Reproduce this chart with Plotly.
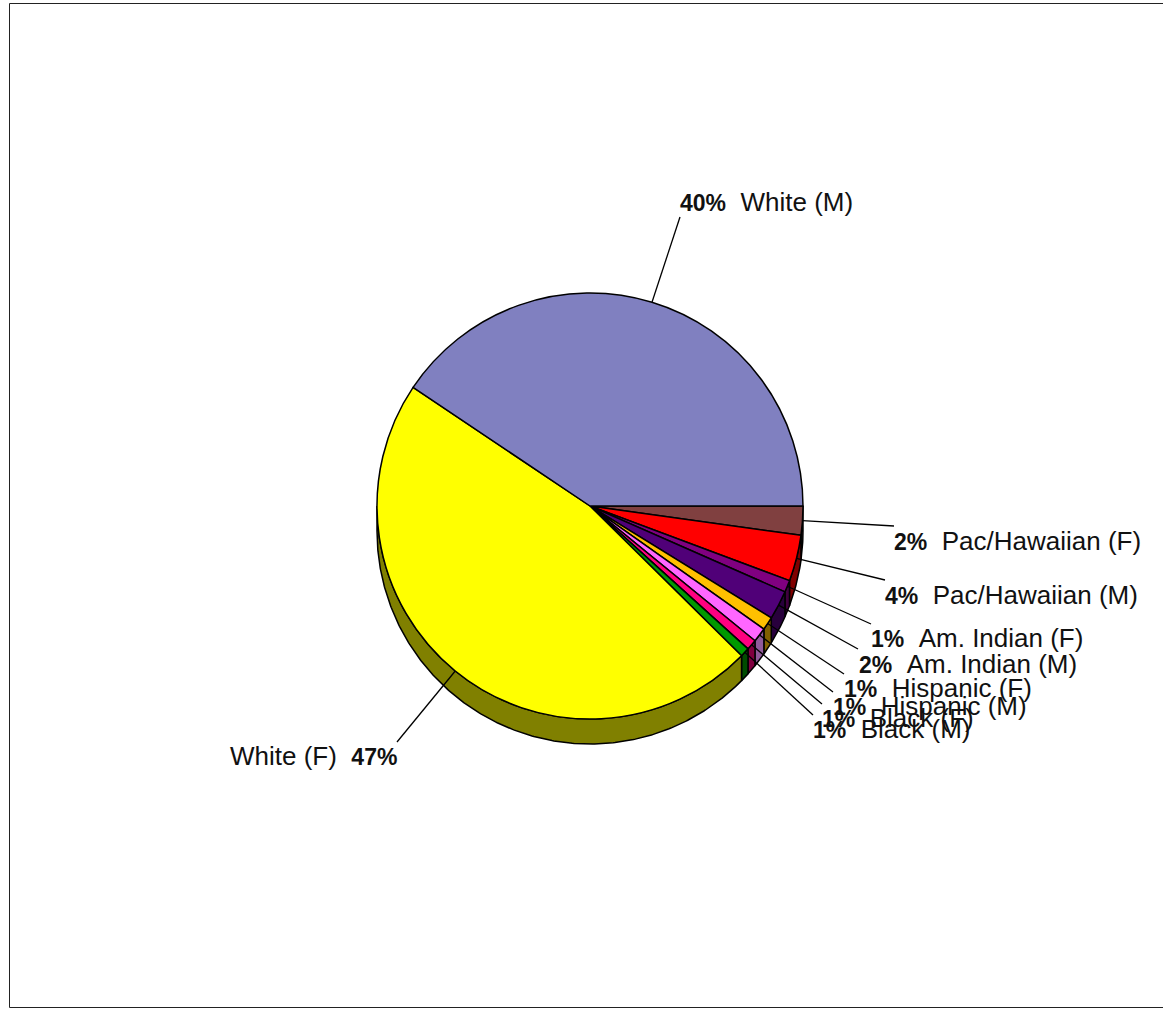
import math
import plotly.graph_objects as go

W, H = 1163, 1009

# ---- data ----
categories = ["Pac/Hawaiian (F)", "Pac/Hawaiian (M)", "Am. Indian (F)", "Am. Indian (M)",
              "Hispanic (F)", "Hispanic (M)", "Black (F)", "Black (M)", "White (F)", "White (M)"]
values = [2.2, 3.5, 0.9, 2.2, 1.0, 1.1, 0.8, 0.7, 47.0, 40.6]
percent_labels = ["2%", "4%", "1%", "2%", "1%", "1%", "1%", "1%", "47%", "40%"]

# ---- styles ----
top_colors = ["#804040", "#FF0000", "#800080", "#500078", "#FFC000",
              "#FF66FF", "#FF0080", "#009900", "#FFFF00", "#8080C0"]
side_colors = ["#402020", "#800000", "#400040", "#28003C", "#806000",
               "#905A9A", "#800040", "#004C00", "#808000", "#404060"]

# ---- layout (pixels) ----
CX, CY, R, DEPTH = 590, 506, 213, 25
leader_ends = [(894, 526), (885, 580), (871, 624), (858, 649), (844, 674),
               (833, 692), (822, 704), (813, 715), (397, 742), (680, 217)]
label_x = [892, 883, 869, 857, 842, 831, 820, 811, 399, 678]
label_y = [541, 595, 638, 664, 688, 706, 718, 729, 756, 202]
LINE = 1.5

total = sum(values)
edges = [0.0]
for v in values:
    edges.append(edges[-1] + v / total * 360)


def rim(deg, drop=0.0):
    a = math.radians(deg)
    return CX + R * math.cos(a), CY + R * math.sin(a) + drop


fig = go.Figure()

# extruded side walls, drawn under the pie
for i, name in enumerate(categories):
    a0, a1 = edges[i], min(edges[i + 1], 180.0)
    if a0 >= 180:
        continue
    n = max(2, int((a1 - a0) * 2))
    degs = [a0 + (a1 - a0) * k / n for k in range(n + 1)]
    upper = [rim(d) for d in degs]
    lower = [rim(d, DEPTH) for d in reversed(degs)]
    pts = upper + lower + upper[:1]
    fig.add_trace(go.Scatter(x=[p[0] for p in pts], y=[p[1] for p in pts], mode="lines",
                             fill="toself", fillcolor=side_colors[i],
                             line=dict(color="black", width=LINE),
                             hoverinfo="skip", showlegend=False))

# leader lines
for i, name in enumerate(categories):
    sx, sy = rim((edges[i] + edges[i + 1]) / 2)
    ex, ey = leader_ends[i]
    fig.add_trace(go.Scatter(x=[sx, ex], y=[sy, ey], mode="lines",
                             line=dict(color="black", width=1.3),
                             hoverinfo="skip", showlegend=False))

# the pie itself
fig.add_trace(go.Pie(labels=categories, values=values, sort=False, direction="clockwise",
                     rotation=90, textinfo="none", showlegend=False,
                     marker=dict(colors=top_colors, line=dict(color="black", width=LINE)),
                     domain=dict(x=[(CX - R) / W, (CX + R) / W],
                                 y=[1 - (CY + R) / H, 1 - (CY - R) / H])))

# labels
GAP = "\u00a0\u00a0"
annotations = []
for i, name in enumerate(categories):
    pct = f'<span style="font-size:23px"><b>{percent_labels[i]}</b></span>'
    if label_x[i] < CX:
        text = f"{name}{GAP}{pct}"
        anchor = "right"
    else:
        text = f"{pct}{GAP}{name}"
        anchor = "left"
    annotations.append(dict(x=label_x[i], y=label_y[i], xref="x", yref="y", text=text,
                            showarrow=False, xanchor=anchor, yanchor="middle",
                            font=dict(family="Liberation Sans, Arial, sans-serif", size=26, color="#111111")))

fig.update_layout(
    width=W, height=H, autosize=False,
    margin=dict(l=0, r=0, t=0, b=0),
    paper_bgcolor="white", plot_bgcolor="white",
    xaxis=dict(visible=False, range=[0, W], fixedrange=True),
    yaxis=dict(visible=False, range=[H, 0], fixedrange=True),
    annotations=annotations,
    shapes=[dict(type="rect", xref="x", yref="y", x0=9.5, y0=3.5, x1=W + 5, y1=1007.5,
                 line=dict(color="#222222", width=1), layer="below")],
)

fig.write_html("out.html", config={"displayModeBar": False},
               post_script="document.body.style.margin='0';document.body.style.overflow='hidden';")
